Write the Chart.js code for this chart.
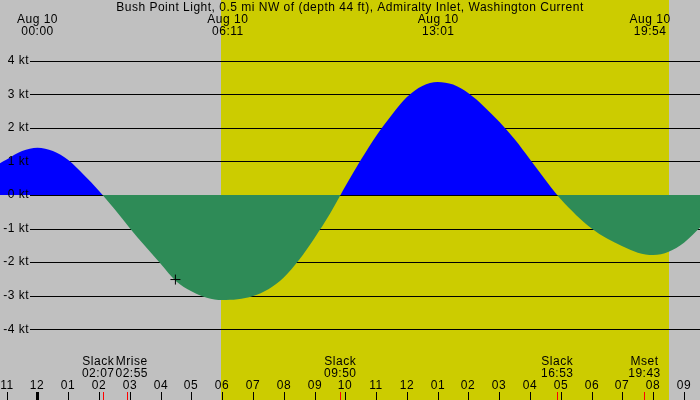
<!DOCTYPE html>
<html>
<head>
<meta charset="utf-8">
<script src="https://cdn.jsdelivr.net/npm/chart.js@4/dist/chart.umd.min.js"></script>
<style>
  html, body { margin: 0; padding: 0; background: #c0c0c0; }
  #wrap { width: 700px; height: 400px; }
</style>
</head>
<body>
<div id="wrap"><canvas id="tide" width="700" height="400"></canvas></div>
<script>
// current speed (kt), hours after local midnight Aug 10
var hours = [-1.218, -1.0, -0.5, 0.0, 0.5, 1.0, 1.5, 2.0,
  2.5, 3.0, 3.5, 4.0, 4.5, 5.0, 5.5, 6.0, 6.5, 7.0, 7.5, 8.0, 8.5, 9.0, 9.5,
  10.0, 10.5, 11.0, 11.5, 12.0, 12.5, 13.0, 13.5, 14.0, 14.5, 15.0, 15.5, 16.0, 16.5,
  17.0, 17.5, 18.0, 18.5, 19.0, 19.5, 20.0, 20.5, 21.0, 21.52];
var knots = [0.95, 1.06, 1.31, 1.41, 1.31, 1.04, 0.6, 0.12,
  -0.42, -0.99, -1.53, -2.05, -2.57, -2.87, -3.06, -3.13, -3.11, -3.01, -2.81, -2.46, -1.93, -1.28, -0.56,
  0.26, 1.04, 1.76, 2.38, 2.92, 3.25, 3.37, 3.29, 3.03, 2.64, 2.18, 1.66, 1.06, 0.45,
  -0.13, -0.6, -1.0, -1.3, -1.53, -1.72, -1.79, -1.69, -1.42, -0.97];

var title = "Bush Point Light, 0.5 mi NW of (depth 44 ft), Admiralty Inlet, Washington Current";
var topDates = ["Aug 10", "Aug 10", "Aug 10", "Aug 10"];
var topTimes = ["00:00", "06:11", "13:01", "19:54"];

var eventNames = ["Slack", "Mrise", "Slack", "Slack", "Mset"];
var eventTimes = ["02:07", "02:55", "09:50", "16:53", "19:43"];

var hourTicks = [-1, 0, 1, 2, 3, 4, 5, 6, 7, 8, 9, 10, 11, 12, 13, 14, 15, 16, 17, 18, 19, 20, 21];
var hourLabels = ["11", "12", "01", "02", "03", "04", "05", "06", "07", "08", "09", "10",
  "11", "12", "01", "02", "03", "04", "05", "06", "07", "08", "09"];
var ktTicks = [4, 3, 2, 1, 0, -1, -2, -3, -4];
var daylight = [5.96, 20.51];
var marker = [{ x: 4.48, y: -2.52 }];

var FONT = "12px 'Liberation Sans', Arial, sans-serif";

function toHours(s) {
  var p = s.split(":");
  return parseInt(p[0], 10) + parseInt(p[1], 10) / 60;
}

var decor = {
  id: "decor",
  beforeDraw: function (chart) {
    var ctx = chart.ctx, x = chart.scales.x;
    ctx.save();
    ctx.fillStyle = "#c0c0c0";
    ctx.fillRect(0, 0, chart.width, chart.height);
    var x0 = Math.round(x.getPixelForValue(daylight[0]));
    var x1 = Math.round(x.getPixelForValue(daylight[1]));
    ctx.fillStyle = "#cccc00";
    ctx.fillRect(x0, 0, x1 - x0, chart.height);
    ctx.restore();
  },
  beforeDatasetsDraw: function (chart) {
    var ctx = chart.ctx, y = chart.scales.y;
    ctx.save();
    ctx.strokeStyle = "#000";
    ctx.lineWidth = 1;
    ktTicks.forEach(function (v) {
      var py = Math.round(y.getPixelForValue(v)) + 0.5;
      ctx.beginPath();
      ctx.moveTo(30, py);
      ctx.lineTo(chart.width, py);
      ctx.stroke();
    });
    ctx.restore();
  },
  afterDatasetsDraw: function (chart) {
    var ctx = chart.ctx, x = chart.scales.x, y = chart.scales.y;
    ctx.save();
    ctx.font = FONT;
    ctx.letterSpacing = "0.5px";
    ctx.fillStyle = "#000";
    ctx.textBaseline = "middle";

    // axis labels
    ctx.textAlign = "right";
    ktTicks.forEach(function (v) {
      ctx.fillText(v + " kt", 29, y.getPixelForValue(v));
    });

    // title and top event labels
    ctx.textAlign = "center";
    ctx.fillText(title, chart.width / 2, 8);
    topTimes.forEach(function (t, i) {
      var px = x.getPixelForValue(toHours(t));
      ctx.fillText(topDates[i], px, 20);
      ctx.fillText(t, px, 32);
    });

    // hour ticks
    var base = chart.height;
    hourTicks.forEach(function (h, i) {
      var px = Math.round(x.getPixelForValue(h));
      ctx.fillRect(h === 0 ? px - 1 : px, base - 8, h === 0 ? 3 : 1, 8);
      ctx.fillText(hourLabels[i], px, 386);
    });

    // events along the bottom, pushed apart where they collide
    var pos = eventTimes.map(function (t) { return x.getPixelForValue(toHours(t)); });
    var centers = pos.slice();
    var widths = eventNames.map(function (n, i) {
      return Math.max(ctx.measureText(n).width, ctx.measureText(eventTimes[i]).width);
    });
    for (var i = 1; i < centers.length; i++) {
      var need = (widths[i - 1] + widths[i]) / 2 + 1;
      var gap = centers[i] - centers[i - 1];
      if (gap < need) {
        centers[i - 1] -= (need - gap) / 2;
        centers[i] += (need - gap) / 2;
      }
    }
    ctx.fillStyle = "#ff0000";
    pos.forEach(function (px) { ctx.fillRect(Math.round(px), base - 8, 1, 8); });
    ctx.fillStyle = "#000";
    eventNames.forEach(function (n, i) {
      ctx.fillText(n, centers[i], 362);
      ctx.fillText(eventTimes[i], centers[i], 374);
    });
    ctx.restore();
  }
};

new Chart(document.getElementById("tide").getContext("2d"), {
  type: "line",
  data: {
    datasets: [
      {
        data: hours.map(function (h, i) { return { x: h, y: knots[i] }; }),
        order: 2,
        borderWidth: 0,
        borderColor: "rgba(0,0,0,0)",
        pointRadius: 0,
        cubicInterpolationMode: "monotone",
        fill: { target: "origin", above: "#0000ff", below: "#2e8b57" },
      },
      {
        type: "scatter",
        data: marker,
        order: 1,
        pointStyle: "cross",
        pointRadius: 5,
        borderColor: "#000",
        borderWidth: 1,
        showLine: false,
      },
    ],
  },
  options: {
    responsive: false,
    animation: false,
    devicePixelRatio: 1,
    layout: { padding: 0, autoPadding: false },
    plugins: { legend: { display: false }, tooltip: { enabled: false } },
    scales: {
      x: { type: "linear", display: false, min: -1.218, max: 21.52 },
      y: { display: false, min: -6.11, max: 5.812 },
    },
  },
  plugins: [decor],
});
</script>
</body>
</html>
